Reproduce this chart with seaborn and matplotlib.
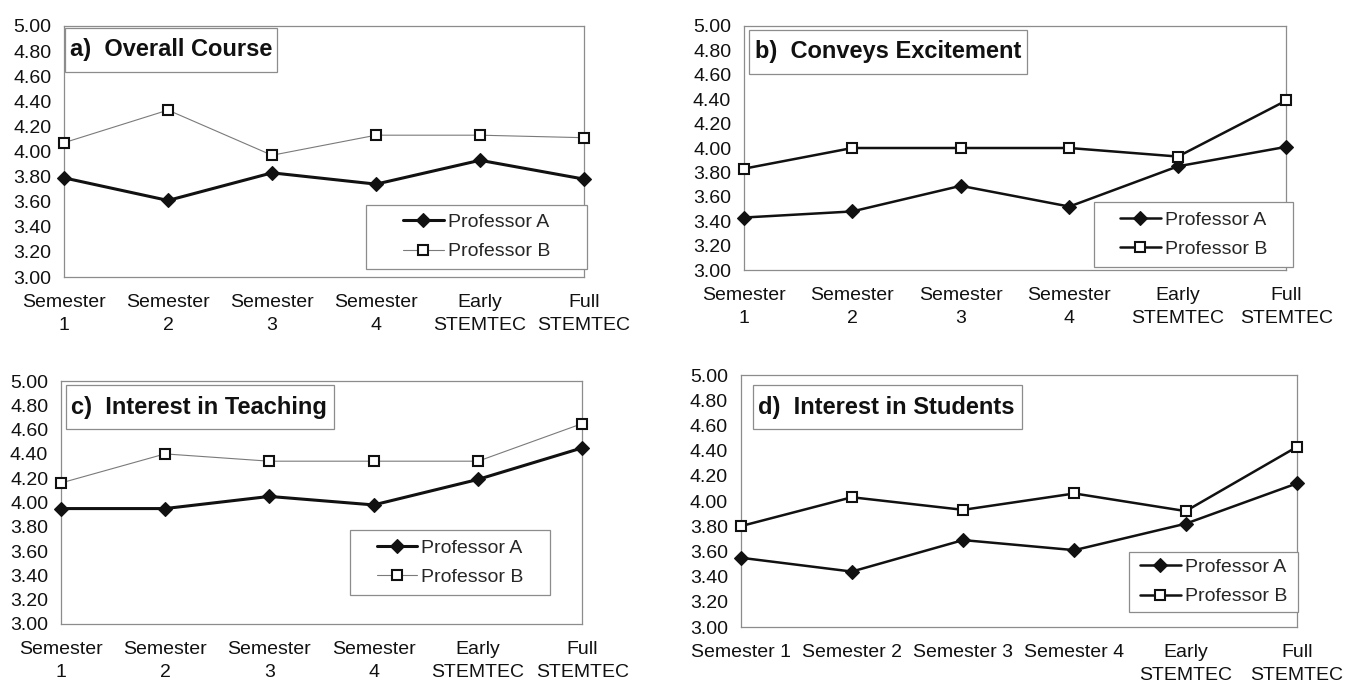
import matplotlib
matplotlib.use("Agg")
import matplotlib.pyplot as plt
import seaborn as sns
import pandas as pd
from matplotlib.patches import Rectangle

# Category labels (two wordings: wrapped and single-line semesters)
periods_wrapped = ["Semester\n1", "Semester\n2", "Semester\n3", "Semester\n4",
                   "Early\nSTEMTEC", "Full\nSTEMTEC"]
periods_inline = ["Semester 1", "Semester 2", "Semester 3", "Semester 4",
                  "Early\nSTEMTEC", "Full\nSTEMTEC"]
y_ticks = [3.00, 3.20, 3.40, 3.60, 3.80, 4.00, 4.20, 4.40, 4.60, 4.80, 5.00]
series_names = ["Professor A", "Professor B"]

titles = ["a)  Overall Course", "b)  Conveys Excitement",
          "c)  Interest in Teaching", "d)  Interest in Students"]

# Mean ratings per period
overall_a = [3.79, 3.61, 3.83, 3.74, 3.93, 3.78]
overall_b = [4.07, 4.33, 3.97, 4.13, 4.13, 4.11]
excitement_a = [3.43, 3.48, 3.69, 3.52, 3.85, 4.01]
excitement_b = [3.83, 4.00, 4.00, 4.00, 3.93, 4.39]
teaching_a = [3.95, 3.95, 4.05, 3.98, 4.19, 4.45]
teaching_b = [4.16, 4.40, 4.34, 4.34, 4.34, 4.65]
students_a = [3.55, 3.44, 3.69, 3.61, 3.82, 4.14]
students_b = [3.80, 4.03, 3.93, 4.06, 3.92, 4.43]

sns.set_style("white")
plt.rcParams["font.family"] = ["Liberation Sans", "DejaVu Sans"]

fig = plt.figure(figsize=(13.45, 6.86), dpi=100)

# layout: axes rect, title box (x0, y0, x1, y1 in axes fraction),
# legend box, whether Professor B is drawn as a thin grey line
panels = [
    dict(rect=[0.0476, 0.5962, 0.3866, 0.3659], periods=periods_wrapped,
         a=overall_a, b=overall_b, title=titles[0],
         tbox=(0.002, 0.817, 0.41, 0.992), lbox=(0.581, 0.032, 1.006, 0.287),
         thin_b=True),
    dict(rect=[0.5529, 0.6064, 0.4036, 0.3557], periods=periods_wrapped,
         a=excitement_a, b=excitement_b, title=titles[1],
         tbox=(0.01, 0.803, 0.522, 0.984), lbox=(0.645, 0.012, 1.012, 0.279),
         thin_b=False),
    dict(rect=[0.0451, 0.0904, 0.3879, 0.3542], periods=periods_wrapped,
         a=teaching_a, b=teaching_b, title=titles[2],
         tbox=(0.01, 0.802, 0.524, 0.984), lbox=(0.555, 0.119, 0.938, 0.387),
         thin_b=True),
    dict(rect=[0.5506, 0.0860, 0.4137, 0.3673], periods=periods_inline,
         a=students_a, b=students_b, title=titles[3],
         tbox=(0.022, 0.786, 0.506, 0.96), lbox=(0.698, 0.06, 1.002, 0.298),
         thin_b=False),
]

frame_col = "#8c8c8c"

for p in panels:
    ax = fig.add_axes(p["rect"])
    df = pd.DataFrame({"period": p["periods"], "A": p["a"], "B": p["b"]})

    if p["thin_b"]:
        lw_a, lw_b, col_b = 2.2, 0.8, "#7a7a7a"
    else:
        lw_a, lw_b, col_b = 1.8, 1.8, "#111111"

    sns.lineplot(data=df, x="period", y="A", ax=ax, color="#111111",
                 linewidth=lw_a, marker="D", markersize=7.5,
                 markerfacecolor="#111111", markeredgecolor="#111111",
                 markeredgewidth=0.8, sort=False, errorbar=None,
                 label=series_names[0], clip_on=False, zorder=4)
    sns.lineplot(data=df, x="period", y="B", ax=ax, color=col_b,
                 linewidth=lw_b, marker="s", markersize=7.8,
                 markerfacecolor="white", markeredgecolor="#111111",
                 markeredgewidth=1.5, sort=False, errorbar=None,
                 label=series_names[1], clip_on=False, zorder=4)

    ax.set_xlim(0, len(p["periods"]) - 1)
    ax.set_ylim(y_ticks[0], y_ticks[-1])
    ax.set_yticks(y_ticks)
    ax.set_yticklabels([f"{v:.2f}" for v in y_ticks])
    ax.set_xlabel("")
    ax.set_ylabel("")

    for s in ax.spines.values():
        s.set_color(frame_col)
        s.set_linewidth(0.9)
    ax.tick_params(axis="y", direction="inout", length=8, width=0.8,
                   color=frame_col, pad=5, labelsize=14, labelcolor="#111111")
    ax.tick_params(axis="x", direction="inout", length=8, width=0.8,
                   color=frame_col, pad=8.5, labelsize=14, labelcolor="#111111")
    for lbl in ax.get_xticklabels():
        lbl.set_linespacing(1.45)

    # title box
    x0, y0, x1, y1 = p["tbox"]
    ax.add_patch(Rectangle((x0, y0), x1 - x0, y1 - y0, transform=ax.transAxes,
                           facecolor="white", edgecolor=frame_col,
                           linewidth=0.9, zorder=3, clip_on=False))
    ax.text(x0 + 0.01, (y0 + y1) / 2, p["title"], transform=ax.transAxes,
            ha="left", va="center", fontsize=17, fontweight="bold",
            color="#111111", zorder=5)

    # legend box
    lx0, ly0, lx1, ly1 = p["lbox"]
    ax.add_patch(Rectangle((lx0, ly0), lx1 - lx0, ly1 - ly0,
                           transform=ax.transAxes, facecolor="white",
                           edgecolor=frame_col, linewidth=0.9, zorder=3,
                           clip_on=False))
    handles, labels = ax.get_legend_handles_labels()
    leg = ax.legend(handles, labels, loc="center",
                    bbox_to_anchor=(lx0, ly0, lx1 - lx0, ly1 - ly0),
                    bbox_transform=ax.transAxes, frameon=False,
                    handlelength=2.1, handletextpad=0.2, labelspacing=0.6,
                    fontsize=14, borderaxespad=0, borderpad=0)
    leg.set_zorder(6)

fig.savefig("out.png", dpi=100, facecolor="white")
